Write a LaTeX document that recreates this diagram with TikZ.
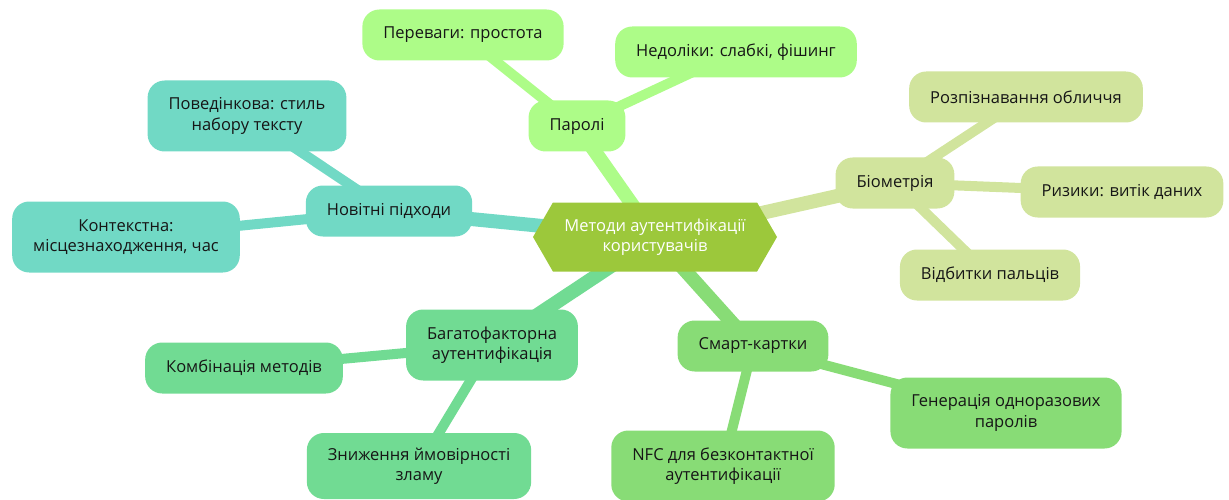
\documentclass[tikz,border=0pt]{standalone}
\usepackage{fontspec}
\setmainfont{Open Sans}
\usepackage{xcolor}
\usepackage{tikz}
\usetikzlibrary{shapes.symbols, backgrounds}
\definecolor{rootgreen}{HTML}{9CC83B}
\definecolor{pwgreen}{HTML}{ADFC88}
\definecolor{biolime}{HTML}{D1E49D}
\definecolor{newteal}{HTML}{71D9C5}
\definecolor{mfagreen}{HTML}{71DB93}
\definecolor{cardgreen}{HTML}{88DC76}
\definecolor{txtgray}{HTML}{161616}

\begin{document}
\begin{tikzpicture}[x=1pt, y=-1pt,
    leaf/.style={rounded corners=17pt, inner xsep=21pt, minimum height=51pt,
        align=center, text=txtgray, font=\fontsize{16.5}{20.5}\selectfont},
    trunk/.style={line width=14pt},
    twig/.style={line width=10pt}
]
  \useasboundingbox (0,0) rectangle (1229,500);

  % Root
  \node[shape=signal, signal to=west and east, signal pointer angle=120,
        fill=rootgreen, text=white, align=center, minimum width=244pt,
        minimum height=69pt, inner sep=0pt, font=\fontsize{16.5}{20.5}\selectfont]
        (root) at (655,237) {Методи аутентифікації\\користувачів};

  % Passwords
  \node[leaf, fill=pwgreen] (pw) at (577,126) {Паролі};
  \node[leaf, fill=pwgreen] (pwpro) at (463,35) {Переваги: простота};
  \node[leaf, fill=pwgreen] (pwcon) at (736,52) {Недоліки: слабкі, фішинг};

  % Biometrics
  \node[leaf, fill=biolime] (bio) at (895,183) {Біометрія};
  \node[leaf, fill=biolime] (bioface) at (1026,97) {Розпізнавання обличчя};
  \node[leaf, fill=biolime] (biorisk) at (1122,192) {Ризики: витік даних};
  \node[leaf, fill=biolime] (biofing) at (990,275) {Відбитки пальців};

  % New approaches
  \node[leaf, fill=newteal] (new) at (389,211) {Новітні підходи};
  \node[leaf, fill=newteal, minimum height=71pt] (newbeh) at (247,116)
        {Поведінкова: стиль\\набору тексту};
  \node[leaf, fill=newteal, minimum height=71pt] (newctx) at (126,237)
        {Контекстна:\\місцезнаходження, час};

  % Multi-factor
  \node[leaf, fill=mfagreen, minimum height=71pt] (mfa) at (492,345)
        {Багатофакторна\\аутентифікація};
  \node[leaf, fill=mfagreen] (mfacomb) at (244,368) {Комбінація методів};
  \node[leaf, fill=mfagreen, minimum height=66pt] (mfalow) at (419,466)
        {Зниження ймовірності\\зламу};

  % Smart cards
  \node[leaf, fill=cardgreen] (card) at (753,346) {Смарт-картки};
  \node[leaf, fill=cardgreen, minimum height=71pt] (cardotp) at (1006,413)
        {Генерація одноразових\\паролів};
  \node[leaf, fill=cardgreen, minimum height=71pt] (cardnfc) at (723,466)
        {NFC для безконтактної\\аутентифікації};

  % Connectors
  \begin{scope}[on background layer]
    \draw[trunk, pwgreen] (root.center) -- (pw.center);
    \draw[twig, pwgreen] (pw.center) -- (pwpro.center);
    \draw[twig, pwgreen] (pw.center) -- (pwcon.center);
    \draw[trunk, biolime] (root.center) -- (bio.center);
    \draw[twig, biolime] (bio.center) -- (bioface.center);
    \draw[twig, biolime] (bio.center) -- (biorisk.center);
    \draw[twig, biolime] (bio.center) -- (biofing.center);
    \draw[trunk, newteal] (root.center) -- (new.center);
    \draw[twig, newteal] (new.center) -- (newbeh.center);
    \draw[twig, newteal] (new.center) -- (newctx.center);
    \draw[trunk, mfagreen] (root.center) -- (mfa.center);
    \draw[twig, mfagreen] (mfa.center) -- (mfacomb.center);
    \draw[twig, mfagreen] (mfa.center) -- (mfalow.center);
    \draw[trunk, cardgreen] (root.center) -- (card.center);
    \draw[twig, cardgreen] (card.center) -- (cardotp.center);
    \draw[twig, cardgreen] (card.center) -- (cardnfc.center);
  \end{scope}
\end{tikzpicture}
\end{document}
